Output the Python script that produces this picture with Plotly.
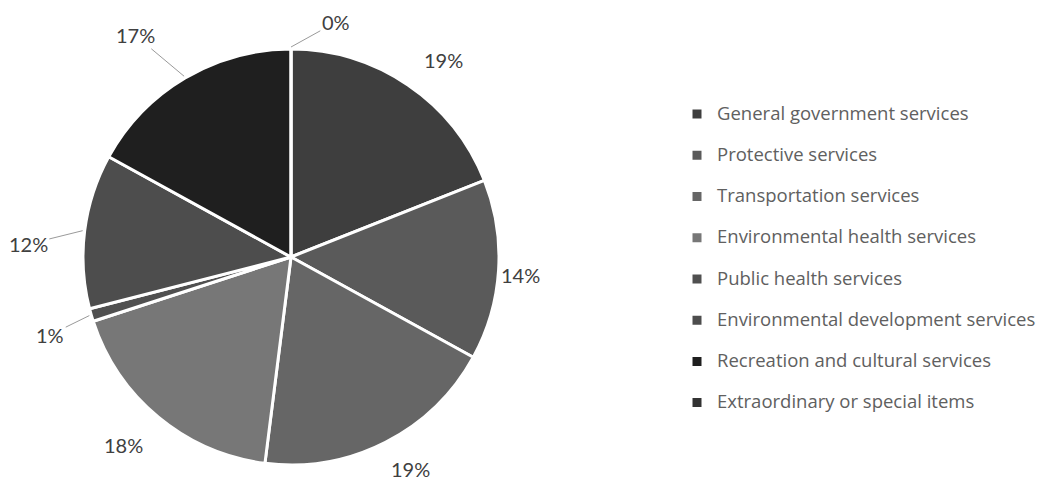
import math
import plotly.graph_objects as go

labels = [
    "General government services",
    "Protective services",
    "Transportation services",
    "Environmental health services",
    "Public health services",
    "Environmental development services",
    "Recreation and cultural services",
    "Extraordinary or special items",
]
values = [19, 14, 19, 18, 1, 12, 17, 0]
colors = ["#3e3e3e", "#5a5a5a", "#666666", "#777777", "#505050", "#4d4d4d", "#1f1f1f", "#333333"]

# style: label placement (angle shift in degrees, radius in px) and leader flags
label_shift = [3.5, 0.9, -2.4, 2.2, -1.7, -4.4, -4.5, 10.8]
label_radius = [249, 230, 243, 252, 253, 263, 271, 239]
leader = [False, False, False, False, True, True, True, True]

W, H = 1043, 481
CX, CY, R = 291, 257, 208

legend_labels = [
    "<span style='font-size:18.5px'>" + l + "</span><br> " for l in labels
]

fig = go.Figure(go.Pie(
    labels=legend_labels,
    values=values,
    sort=False,
    direction="clockwise",
    rotation=0,
    marker=dict(colors=colors, line=dict(color="white", width=3)),
    textinfo="none",
    hoverinfo="percent",
    domain=dict(x=[(CX - R) / W, (CX + R) / W], y=[1 - (CY + R) / H, 1 - (CY - R) / H]),
))

total = sum(values)
cum = 0
annotations = []
for i, v in enumerate(values):
    mid = (cum + v / 2) / total * 360
    cum += v
    pct = f"{round(v / total * 100)}%"
    th = math.radians(mid + label_shift[i])
    tx = CX + label_radius[i] * math.sin(th)
    ty = CY - label_radius[i] * math.cos(th)
    font = dict(family="Lato", size=20, color="#404040")
    if leader[i]:
        am = math.radians(mid)
        axp = CX + (R + 2) * math.sin(am)
        ayp = CY - (R + 2) * math.cos(am)
        annotations.append(dict(
            x=axp / W, y=1 - ayp / H, xref="paper", yref="paper",
            text=pct, showarrow=True, arrowhead=0, arrowwidth=1, arrowcolor="#9a9a9a",
            ax=tx - axp, ay=ty - ayp, standoff=0, font=font,
        ))
    else:
        annotations.append(dict(
            x=tx / W, y=1 - ty / H, xref="paper", yref="paper",
            text=pct, showarrow=False, font=font, xanchor="center", yanchor="middle",
        ))

fig.update_layout(
    width=W, height=H, autosize=False,
    margin=dict(l=0, r=0, t=0, b=0),
    paper_bgcolor="white", plot_bgcolor="white",
    annotations=annotations,
    legend=dict(
        x=677 / W, y=1 - 98 / H, xanchor="left", yanchor="top",
        font=dict(family="Open Sans", size=14.7, color="#606060"),
        valign="top", itemwidth=30, traceorder="normal",
    ),
    showlegend=True,
)

fig.write_html("out.html", config={"displayModeBar": False},
               post_script="document.body.style.margin='0';")
